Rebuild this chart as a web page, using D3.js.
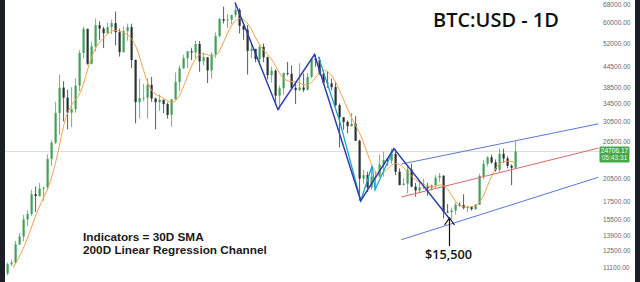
<!DOCTYPE html>
<html><head><meta charset="utf-8">
<script src="https://cdn.jsdelivr.net/npm/d3@7"></script>
<style>html,body{margin:0;padding:0;background:#fff;overflow:hidden}</style>
</head><body><svg id="c" width="640" height="282"></svg>
<script>
// ---- DATA ----
const firstWeek = "2020-10-05";
const opens = [10670,11370,11500,13030,13760,15480,16070,18420,18180,19150,19270,23480,26270,32200,38350,35800,32300,33100,38900,48700,57500,45200,51000,59000,57600,55800,58200,59800,56200,49000,56600,58200,46400,34700,35700,35800,39100,35600,34700,35300,34250,31800,35400,39900,43800,47000,49300,48900,51800,46000,47300,43200,48200,54700,61500,60900,61300,63300,65500,58700,57200,49400,50100,46700,50800,47300,41800,43100,36300,38200,42400,42200,38300,37700,38400,37800,41300,46800,46400,42200,39700,39500,38500,34000,31300,30300,29400,29900,26600,20500,21000,19300,20800,20800,22600,23300,23200,24300,21500,19600,19800,21800,19400,18900,19300,19400,19200,19570,20630,20900,16330,16280,16450,17130,17090,16740,16840,16620,17130,20880,22710,23740,22930,21800,24300,23550,22400,22100];
const highs = [11490,11720,13350,14100,15960,16480,18970,19420,19900,19390,24200,26700,34800,41950,40100,37850,38500,40900,49700,58350,57550,52600,61700,60600,58400,60000,61200,64800,57600,58400,59600,59600,46600,40800,39400,40900,41300,35800,36600,35300,34600,35400,42600,44700,48100,49300,50500,52900,52900,48800,47300,49000,56100,62000,67000,63700,63300,69000,66300,59200,59100,51900,50100,51900,52000,47500,44300,43500,38900,42600,45800,44700,39800,45400,42300,42400,47000,48200,47400,42400,42900,40800,40000,34400,31300,30600,32200,31500,26800,21800,21500,22300,21600,24200,24700,23600,25200,25100,22000,20600,22500,22700,19900,20300,20500,19900,19700,21000,21300,21000,17200,16800,17400,17400,18400,17000,16950,17200,21200,23300,23900,24200,23400,25200,25200,23900,22600,26500];
const lows = [10540,11220,11420,12980,13300,14800,15850,16300,18110,17600,19000,22400,26000,27700,30400,28800,29200,32300,37400,47000,44900,45000,49300,53300,50400,55700,55500,51300,47500,48800,53000,43900,30000,31000,34900,31000,34800,28800,32700,32200,31000,29300,35300,37500,43700,43900,46400,46900,42800,44700,39600,40800,47100,54200,59700,57900,59400,62300,55700,53300,42000,47000,45700,45600,45700,40600,39700,34000,32900,36600,41700,38000,34300,37500,37200,37600,40900,44300,41900,39200,38300,37700,33700,25400,28700,28000,29300,26600,17600,19800,18700,19000,18900,20700,20800,22400,22700,21000,19600,19600,18500,19300,18100,18500,19100,18200,18900,19200,20050,15600,16200,15500,16000,16900,16600,16300,16450,16550,17100,20400,22300,22700,21500,21400,22800,22000,19600,21900];
const closes = [11370,11500,13030,13760,15480,16070,18420,18180,19150,19270,23480,26270,32200,38350,35800,32300,33100,38900,48700,57500,45200,51000,59000,57600,55800,58200,59800,56200,49000,56600,58200,46400,34700,35700,35800,39100,35600,34700,35300,34250,31800,35400,39900,43800,47000,49300,48900,51800,46000,47300,43200,48200,54700,61500,60900,61300,63300,65500,58700,57200,49400,50100,46700,50800,47300,41800,43100,36300,38200,42400,42200,38300,37700,38400,37800,41300,46800,46400,42200,39700,39500,38500,34000,31300,30300,29400,29900,26600,20500,21000,19300,20800,20800,22600,23300,23200,24300,21500,19600,19800,21800,19400,18900,19300,19400,19200,19570,20630,20900,16330,16280,16450,17130,17090,16740,16840,16620,17130,20880,22710,23740,22930,21800,24300,23550,22400,22100,24706];
// 30D SMA read every two weeks (Sunday close dates)
const smaDates = ["2020-10-18","2020-11-08","2020-11-22","2020-12-06","2020-12-20","2021-01-03","2021-01-17","2021-01-31","2021-02-14","2021-02-28","2021-03-14","2021-03-28","2021-04-11","2021-04-25","2021-05-09","2021-05-23","2021-06-06","2021-06-20","2021-07-04","2021-07-18","2021-08-01","2021-08-15","2021-08-29","2021-09-12","2021-09-26","2021-10-10","2021-10-24","2021-11-07","2021-11-21","2021-12-05","2021-12-19","2022-01-02","2022-01-16","2022-01-30","2022-02-13","2022-02-27","2022-03-13","2022-03-27","2022-04-10","2022-04-24","2022-05-08","2022-05-22","2022-06-05","2022-06-19","2022-07-03","2022-07-17","2022-07-31","2022-08-14","2022-08-28","2022-09-11","2022-09-25","2022-10-09","2022-10-23","2022-11-06","2022-11-20","2022-12-04","2022-12-18","2023-01-01","2023-01-15","2023-01-29","2023-02-12","2023-02-26","2023-03-12","2023-03-14"];
const smaValues = [11100,12930,15260,17500,19390,23770,31770,34820,36620,46010,51890,54620,57520,56380,55230,50780,40950,36430,36210,34480,34750,39800,46300,49100,47780,47260,54140,60730,62540,59510,52390,48990,46200,40990,39840,40160,38600,39940,43630,43040,39160,34340,30250,27710,23280,20660,21500,22910,22660,21090,20110,19550,19280,19890,18950,17020,16800,16890,17350,20230,22680,23170,23050,22900];
// Zigzag swings
const zigDates = ["2021-11-10","2022-01-24","2022-03-29","2022-06-18","2022-08-15","2022-11-21"];
const zigPrices = [69000,33000,48200,17600,25200,15500];
const zig2Dates = ["2022-04-05","2022-05-12","2022-06-18","2022-07-08","2022-07-13","2022-08-15"];
const zig2Prices = [47500,30500,17600,22400,19000,25200];
// 200D linear regression channel
const chanDates = ["2022-08-28","2023-08-08"];
const chanMid = [18060,25300];
const chanDev = 4600;
const priceTicks = [68000,60000,52000,44500,38500,34500,30500,26500,20500,17500,15500,13900,12500,11100];
const lastPrice = 24706.17;
const countdown = "05:43:31";

// ---- CHART ----
const svg = d3.select("#c");
const parse = d3.timeParse("%Y-%m-%d");
const x = d3.scaleTime().domain([new Date(2020,9,1), new Date(2023,7,10)]).range([3.6, 599.6]);
const y = d3.scaleLog().domain([60000,11100]).range([22.7,267.7]);
const w0 = parse(firstWeek);
const candles = closes.map((c,i)=>({d:d3.timeDay.offset(w0, i*7+3), o:opens[i], h:highs[i], l:lows[i], c}));

svg.append("defs").append("clipPath").attr("id","plot").append("rect").attr("x",5).attr("y",0).attr("width",595).attr("height",282);
const g = svg.append("g").attr("clip-path","url(#plot)");

// last price line
g.append("line").attr("x1",5).attr("x2",600).attr("y1",y(lastPrice)).attr("y2",y(lastPrice)).attr("stroke","#dedede").attr("stroke-width",1);

// candles
const up="#45a05a", dn="#2a3331";
const cg = g.append("g");
cg.selectAll("line").data(candles).join("line")
  .attr("x1",d=>x(d.d)).attr("x2",d=>x(d.d)).attr("y1",d=>y(d.h)).attr("y2",d=>y(d.l))
  .attr("stroke",d=>d.c>=d.o?up:dn).attr("stroke-width",0.8);
cg.selectAll("rect").data(candles).join("rect")
  .attr("x",d=>x(d.d)-1.1).attr("width",2.2)
  .attr("y",d=>y(Math.max(d.o,d.c))).attr("height",d=>Math.max(0.8,Math.abs(y(d.o)-y(d.c))))
  .attr("fill",d=>d.c>=d.o?up:dn);

// SMA
g.append("path").datum(smaDates.map((d,i)=>[parse(d),smaValues[i]]))
  .attr("fill","none").attr("stroke","#f0a04b").attr("stroke-width",1)
  .attr("d",d3.line().x(d=>x(d[0])).y(d=>y(d[1])).curve(d3.curveBasis));

// regression channel
const cd = chanDates.map(parse);
const chan = (off,col)=>g.append("line").attr("x1",x(cd[0])).attr("x2",x(cd[1]))
  .attr("y1",y(chanMid[0]+off)).attr("y2",y(chanMid[1]+off)).attr("stroke",col).attr("stroke-width",1);
chan(chanDev,"#5a78d6"); chan(-chanDev,"#5a78d6"); chan(0,"#e06666");

// zigzags
const zl = d3.line().x(d=>x(d[0])).y(d=>y(d[1]));
g.append("path").datum(zig2Dates.map((d,i)=>[parse(d),zig2Prices[i]]))
  .attr("fill","none").attr("stroke","#1fa3c9").attr("stroke-width",1.3).attr("d",zl);
g.append("path").datum(zigDates.map((d,i)=>[parse(d),zigPrices[i]]))
  .attr("fill","none").attr("stroke","#2f3fae").attr("stroke-width",1.5).attr("d",zl);

// frame bars
svg.append("rect").attr("x",0).attr("y",0).attr("width",5).attr("height",282).attr("fill","#1c1f27");
svg.append("rect").attr("x",635).attr("y",0).attr("width",5).attr("height",282).attr("fill","#1c1f27");

// price axis
const ax = svg.append("g").attr("transform","translate(602,0)")
  .call(d3.axisRight(y).tickValues(priceTicks).tickSize(0).tickPadding(1).tickFormat(d3.format(".2f")));
ax.select(".domain").remove();
ax.selectAll("text").attr("fill","#666a72").style("font-family","'Liberation Sans',Arial,sans-serif").style("font-size","6.6px");

// last price tag
const ly = y(lastPrice);
svg.append("rect").attr("x",599.5).attr("y",ly-5).attr("width",30).attr("height",16).attr("fill","#46a84a").attr("rx",1);
svg.append("text").attr("x",614.5).attr("y",ly+1.5).attr("text-anchor","middle").attr("fill","#fff")
  .style("font-family","'Liberation Sans',Arial,sans-serif").style("font-size","6.6px").text(d3.format(".2f")(lastPrice));
svg.append("text").attr("x",614.5).attr("y",ly+8.5).attr("text-anchor","middle").attr("fill","#e8f5e9")
  .style("font-family","'Liberation Sans',Arial,sans-serif").style("font-size","6.6px").text(countdown);

// annotations
function fitText(sel, target){ const L=sel.node().getComputedTextLength(); const fs=parseFloat(sel.style("font-size")); sel.style("font-size",(fs*target/L)+"px"); }
const t1 = svg.append("text").attr("x",433).attr("y",27).attr("fill","#111")
  .style("font-family","'Open Sans',sans-serif").style("font-weight","600").style("font-size","20px").text("BTC:USD - 1D");
fitText(t1,126);
const a2 = svg.append("text").attr("x",83).attr("y",253.5).attr("fill","#1a1a1a")
  .style("font-family","'Liberation Sans',Arial,sans-serif").style("font-weight","bold").style("font-size","12px").text("200D Linear Regression Channel");
fitText(a2,184);
const a1 = svg.append("text").attr("x",83).attr("y",240.5).attr("fill","#1a1a1a")
  .style("font-family","'Liberation Sans',Arial,sans-serif").style("font-weight","bold").style("font-size",a2.style("font-size")).text("Indicators = 30D SMA");
const a3 = svg.append("text").attr("x",425).attr("y",258.5).attr("fill","#111")
  .style("font-family","'Open Sans',sans-serif").style("font-weight","600").style("font-size","14px").text("$15,500");
fitText(a3,47);
// arrow
svg.append("line").attr("x1",449.5).attr("x2",449.5).attr("y1",246).attr("y2",218).attr("stroke","#111").attr("stroke-width",1.2);
svg.append("path").attr("d","M444.5,225 L449.5,218 L454.5,225").attr("fill","none").attr("stroke","#111").attr("stroke-width",1.2);
</script></body></html>
